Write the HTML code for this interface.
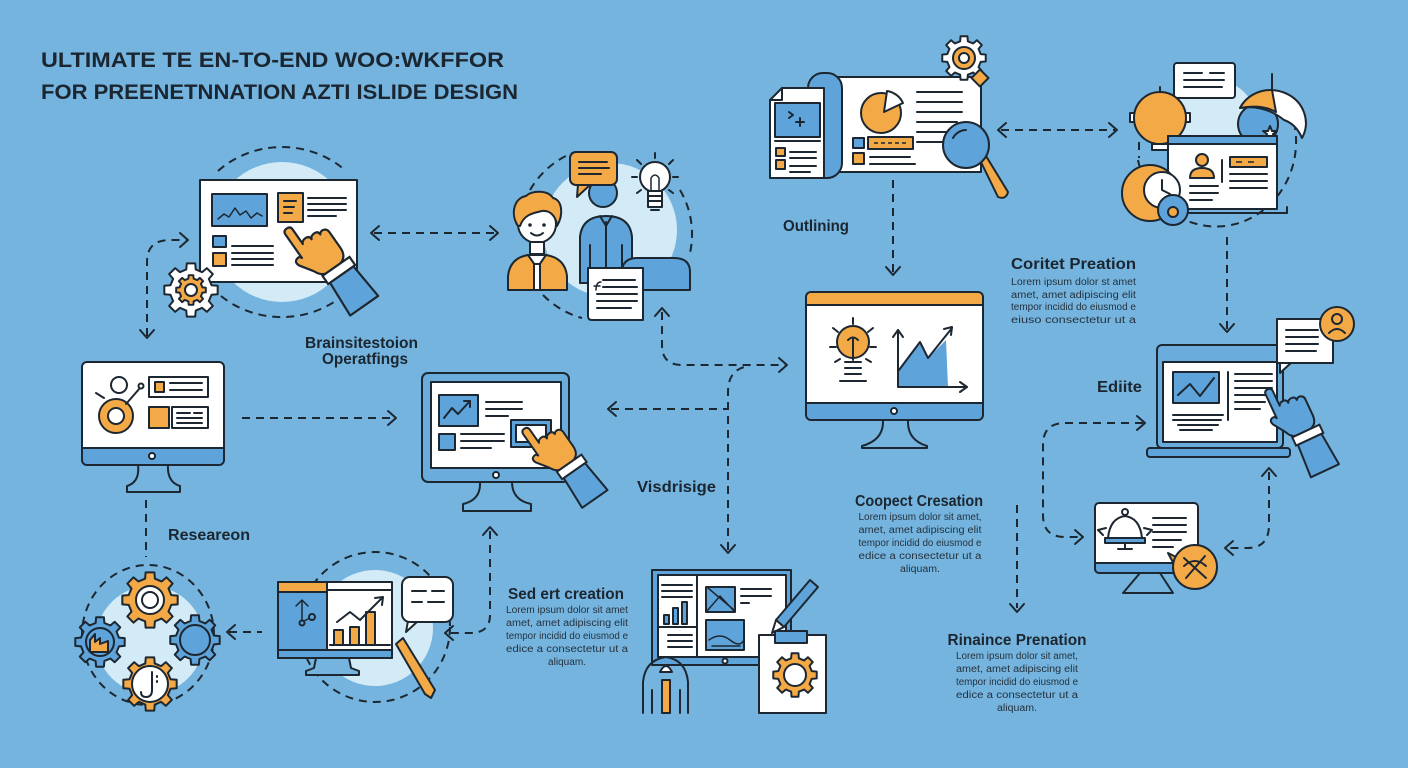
<!DOCTYPE html>
<html><head><meta charset="utf-8">
<style>
html,body{margin:0;padding:0;background:#74b4de;}
svg{display:block}
text{font-family:"Liberation Sans",sans-serif;fill:#1c2630}
.t{font-weight:bold;font-size:16px}
.s{stroke:#1d2731;stroke-width:2;stroke-linejoin:round;stroke-linecap:round}
.l{stroke:#1d2731;stroke-width:2;fill:none;stroke-linecap:round;stroke-linejoin:round}
.th{stroke-width:1.5}
.d{stroke:#1d2731;stroke-width:2;fill:none;stroke-dasharray:8 6}
.w{fill:#fff}
.o{fill:#f4a947}
.b{fill:#5ea3d9}
.bg{fill:#74b4de}
.lc{fill:#d3eaf7}
.lo{font-size:10px;fill:#26323d}
</style></head><body>
<svg width="1408" height="768" viewBox="0 0 1408 768" xmlns="http://www.w3.org/2000/svg">
<defs>
<path id="gear" stroke="#1d2731" stroke-linejoin="round" d="M0.760,-0.1755 L0.988,-0.156 L0.988,0.156 L0.760,0.1755 L0.661,0.413 L0.809,0.588 L0.588,0.809 L0.413,0.661 L0.1755,0.760 L0.156,0.988 L-0.156,0.988 L-0.1755,0.760 L-0.413,0.661 L-0.588,0.809 L-0.809,0.588 L-0.661,0.413 L-0.760,0.1755 L-0.988,0.156 L-0.988,-0.156 L-0.760,-0.1755 L-0.661,-0.413 L-0.809,-0.588 L-0.588,-0.809 L-0.413,-0.661 L-0.1755,-0.760 L-0.156,-0.988 L0.156,-0.988 L0.1755,-0.760 L0.413,-0.661 L0.588,-0.809 L0.809,-0.588 L0.661,-0.413 Z"/>
<g id="hand">
 <path stroke="#1d2731" stroke-width="2" stroke-linejoin="round" d="M0,4 Q0,0 4,0 Q8,0 8,4 L8,20 Q9,17 13,17 Q17,17 17,21 Q18,18 22,18 Q26,18 26,22 Q27,20 30,20 Q34,21 34,25 L34,42 Q34,52 26,54 L10,54 Q5,53 2,46 L-6,34 Q-8,29 -4,28 Q-1,27 0,30 Z"/>
 <path d="M8,63 H34 L37,98 H6 Z" fill="#5ea3d9" stroke="#1d2731" stroke-width="2" stroke-linejoin="round"/>
 <rect x="6" y="54" width="30" height="9" fill="#fff" stroke="#1d2731" stroke-width="2"/>
</g>
</defs>
<rect width="1408" height="768" fill="#74b4de"/>

<!-- TITLE -->
<text x="41" y="67" font-size="21" font-weight="bold" textLength="463" lengthAdjust="spacingAndGlyphs">ULTIMATE TE EN-TO-END WOO:WKFFOR</text>
<text x="41" y="99" font-size="21" font-weight="bold" textLength="477" lengthAdjust="spacingAndGlyphs">FOR PREENETNNATION AZTI ISLIDE DESIGN</text>

<!-- ===== BRAINSTORM SLIDE ===== -->
<circle cx="282" cy="232" r="70" class="lc"/>
<path class="d" d="M218,171 A92,85 0 0 1 346,171"/>
<path class="d" d="M221,296 A92,85 0 0 0 334,302"/>
<rect x="200" y="180" width="157" height="102" class="w s"/>
<rect x="212" y="194" width="55" height="32" class="b s"/>
<polyline class="l th" points="218,219 224,214 229,217 235,208 240,215 246,211 251,218 257,213 262,216"/>
<rect x="278" y="193" width="25" height="29" class="o s"/>
<path class="l" d="M284,201h12M284,207h10M284,213h8"/>
<path class="l" d="M308,198h38M308,204h38M308,210h38M308,216h28"/>
<rect x="213" y="236" width="13" height="11" class="b s"/>
<rect x="213" y="253" width="13" height="13" class="o s"/>
<path class="l" d="M232,246h41M232,253h41M232,259h41M232,265h41"/>
<use href="#hand" fill="#f4a947" transform="translate(283,231) rotate(-35) scale(1.1)"/>
<use href="#gear" fill="#fff" stroke-width="0.074" transform="translate(191,290) scale(27)"/>
<use href="#gear" fill="#f4a947" stroke-width="0.13" transform="translate(191,290) scale(15)"/>
<circle cx="191" cy="290" r="6" class="w s"/>
<path class="d" d="M147,336 L147,262 Q147,240 170,240 L186,240"/>
<polyline class="l" points="180,233 188,240 180,247"/>
<polyline class="l" points="140,330 147,338 154,330"/>
<path class="d" d="M374,233 H496"/>
<polyline class="l" points="379,226 371,233 379,240"/>
<polyline class="l" points="490,226 498,233 490,240"/>
<text x="305" y="348" class="t" textLength="113" lengthAdjust="spacingAndGlyphs">Brainsitestoion</text>
<text x="322" y="364" class="t" textLength="86" lengthAdjust="spacingAndGlyphs">Operatfings</text>

<!-- ===== PEOPLE GROUP ===== -->
<circle cx="610" cy="230" r="67" class="lc"/>
<path class="d" d="M530,190 A87,87 0 0 1 575,152"/>
<path class="d" d="M680,190 A87,87 0 0 1 689,257"/>
<path class="d" d="M543,295 A87,87 0 0 0 582,318"/>
<circle cx="603" cy="193" r="14" class="b s"/>
<path class="b s" d="M580,283 L580,237 Q582,216 606,216 Q630,216 632,237 L632,283 Z"/>
<path class="l" d="M606,222 L606,283 M600,216 L606,226 L612,216 M590,245 V283 M622,245 V283"/>
<path class="o s" d="M578,184 L577,197 L591,184 Z"/>
<rect x="570" y="152" width="47" height="33" rx="6" class="o s"/>
<path class="l" d="M579,162h28M579,168h30M579,174h22"/>
<circle cx="655" cy="177" r="15" class="w s"/>
<rect x="648" y="191" width="14" height="16" class="w s"/>
<path class="l" d="M648,196h14M648,201h14M651,210h8"/>
<path class="l th" d="M651,190 L651,178 Q655,172 659,178 L659,190"/>
<path class="l" d="M655,153v5M637,160l4,4M673,160l-4,4M632,177h5M673,177h5M637,193l4,-3M673,193l-4,-3"/>
<path class="b s" d="M622,290 V272 Q622,258 638,258 H674 Q690,258 690,272 V290 Z"/>
<path class="w s" d="M588,268 H643 V320 H592 Q588,320 588,316 Z"/>
<path class="l" d="M603,280h32M603,287h34M597,294h40M597,301h40M597,308h34"/>
<path class="l th" d="M596,290 q0,-8 5,-8 M594,286h6"/>
<circle cx="537" cy="224" r="19" class="w s"/>
<path class="o s" d="M518,226 C510,214 514,198 526,196 C532,190 548,190 553,198 C562,200 564,214 557,226 C556,216 550,210 542,211 C534,213 524,214 520,226 Z"/>
<circle cx="530" cy="225" r="1.8" fill="#1d2731"/>
<circle cx="544" cy="225" r="1.8" fill="#1d2731"/>
<path class="l" d="M531,233 Q537,238 543,233"/>
<rect x="530" y="242" width="14" height="12" class="w s"/>
<path class="o s" d="M508,290 L508,276 Q510,258 528,255 L546,255 Q565,258 567,276 L567,290 Z"/>
<path class="w s" d="M528,255 L537,268 L546,255 Z"/>
<rect x="534" y="264" width="6" height="26" class="w s"/>
<path class="d" d="M662,312 V345 Q662,365 682,365 H785"/>
<polyline class="l" points="655,316 662,308 669,316"/>
<polyline class="l" points="779,358 787,365 779,372"/>

<!-- ===== OUTLINING ===== -->
<rect x="835" y="77" width="146" height="95" class="w s"/>
<rect x="808" y="73" width="34" height="105" rx="15" class="b s"/>
<path class="w s" d="M782,88 H824 V178 H770 V100 Z"/>
<path class="l" d="M770,100 H782 V88"/>
<rect x="775" y="103" width="45" height="34" class="b s"/>
<path class="l" d="M789,112 l4,3 -4,3 M800,118 v8 M796,122 h8 M775,141 h45"/>
<rect x="776" y="148" width="9" height="8" class="o s"/>
<rect x="776" y="160" width="9" height="9" class="o s"/>
<path class="l" d="M790,152h26M790,158h26M790,166h26M790,172h20"/>
<circle cx="881" cy="113" r="20" class="o s"/>
<path class="w s" d="M884,112 L887,91 A21,21 0 0 1 903,103 Z"/>
<path class="l" d="M917,92h45M917,102h45M917,112h45M917,122h40M917,132h40M917,142h25"/>
<rect x="853" y="138" width="11" height="10" class="b s"/>
<rect x="868" y="137" width="45" height="12" class="o s"/>
<path d="M874,143h32" stroke="#1d2731" stroke-width="1.5" stroke-dasharray="4 3"/>
<rect x="853" y="153" width="11" height="11" class="o s"/>
<path class="l" d="M870,157h40M870,164h45"/>
<path class="o s" d="M980,160 L986,156 L1008,192 Q1006,200 998,197 Z"/>
<circle cx="966" cy="145" r="23" class="b s"/>
<path class="l" stroke="#fff" d="M953,138 A15,15 0 0 1 966,130"/>
<use href="#gear" fill="#fff" stroke-width="0.09" transform="translate(964,58) scale(22)"/>
<circle cx="964" cy="58" r="11" class="o s"/>
<circle cx="964" cy="58" r="5" class="w s"/>
<rect x="974" y="72" width="12" height="12" transform="rotate(45 980 78)" class="o s"/>
<path class="d" d="M1001,130 H1115"/>
<polyline class="l" points="1006,123 998,130 1006,137"/>
<polyline class="l" points="1109,123 1117,130 1109,137"/>
<text x="783" y="231" class="t" textLength="66" lengthAdjust="spacingAndGlyphs">Outlining</text>
<path class="d" d="M893,180 V273"/>
<polyline class="l" points="886,267 893,275 900,267"/>

<!-- ===== RIGHT TOP CLUSTER ===== -->
<circle cx="1212" cy="125" r="46" class="lc"/>
<path class="d" d="M1138,160 A80,85 0 1 0 1290,109"/>
<path class="d" d="M1139,142 V158"/>
<rect x="1174" y="63" width="61" height="35" rx="3" class="w s"/>
<path class="l" d="M1184,73h18M1210,73h14M1184,80h40M1184,87h30M1208,87h14"/>
<circle cx="1258" cy="124" r="20" class="b s"/>
<path class="w s" d="M1240,108 A34,32 0 0 1 1302,138 Q1296,124 1284,120 Q1264,104 1240,108 Z"/>
<path class="o s" d="M1240,108 A34,32 0 0 1 1272,90 L1276,112 Q1262,104 1240,108 Z"/>
<path class="l" d="M1272,90 V74"/>
<polygon class="w s" points="1270,126 1272,131 1277,131 1273,134 1275,139 1270,136 1265,139 1267,134 1263,131 1268,131"/>
<rect x="1130" y="113" width="6" height="9" class="w s"/>
<rect x="1184" y="113" width="6" height="9" class="w s"/>
<circle cx="1160" cy="118" r="26" class="o s"/>
<path class="l" d="M1160,92 v-5"/>
<rect x="1152" y="144" width="16" height="6" class="w s"/>
<rect x="1168" y="136" width="109" height="73" class="w s"/>
<rect x="1168" y="136" width="109" height="8" class="b s"/>
<circle cx="1202" cy="160" r="6" class="o s"/>
<path class="o s" d="M1190,178 Q1190,168 1202,168 Q1214,168 1214,178 Z"/>
<path class="l" d="M1222,160 V182"/>
<rect x="1230" y="157" width="37" height="10" class="o s"/>
<path d="M1236,162h6M1248,162h6" stroke="#1d2731" stroke-width="1.5"/>
<path class="l" d="M1230,174h37M1230,181h37M1230,188h37M1190,186h28M1190,193h28M1190,200h22"/>
<path class="l" d="M1170,213 H1287 V207"/>
<circle cx="1150" cy="193" r="28" class="o s"/>
<circle cx="1162" cy="190" r="18" class="w s"/>
<path class="l" d="M1162,180 V190 L1170,194"/>
<circle cx="1173" cy="210" r="15" class="b s"/>
<circle cx="1173" cy="212" r="5" class="o s"/>
<path class="d" d="M1227,237 V330"/>
<polyline class="l" points="1220,324 1227,332 1234,324"/>
<text x="1011" y="269" class="t" textLength="125" lengthAdjust="spacingAndGlyphs">Coritet Preation</text>
<text x="1011" y="285" class="lo" textLength="125" lengthAdjust="spacingAndGlyphs">Lorem ipsum dolor st amet</text>
<text x="1011" y="298" class="lo" textLength="125" lengthAdjust="spacingAndGlyphs">amet, amet adipiscing elit</text>
<text x="1011" y="310" class="lo" textLength="125" lengthAdjust="spacingAndGlyphs">tempor incidid do eiusmod e</text>
<text x="1011" y="323" class="lo" textLength="125" lengthAdjust="spacingAndGlyphs">eiuso consectetur ut a</text>

<!-- ===== CONCEPT MONITOR ===== -->
<rect x="806" y="292" width="177" height="128" rx="5" class="w"/>
<path class="o" d="M807,305 V297 Q807,293 811,293 H978 Q982,293 982,297 V305 Z"/>
<path class="b" d="M807,403 H982 V415 Q982,419 978,419 H811 Q807,419 807,415 Z"/>
<path class="l" d="M806,305 H983 M806,403 H983"/>
<rect x="806" y="292" width="177" height="128" rx="5" class="l"/>
<circle cx="894" cy="411" r="3" class="w s"/>
<path class="bg s" d="M883,420 Q884,440 862,446 V448 H927 V446 Q907,440 908,420 Z"/>
<circle cx="853" cy="342" r="16" class="o s"/>
<path class="l" d="M848,340 q5,-5 10,0 M853,338 V360 M845,362h16M845,368h16M845,374h16M840,381h26"/>
<path class="l" d="M853,318v6M833,328l5,4M873,328l-5,4M830,347h6M870,347h6M835,362l5,-3M871,362l-5,-3"/>
<polygon class="b" points="899,387 899,370 920,342 928,358 946,340 948,387"/>
<polyline class="l" points="899,370 920,342 928,358 952,328"/>
<polyline class="l" points="944,329 952,327 951,335"/>
<path class="l" d="M898,387 H967 M898,387 V330"/>
<polyline class="l" points="893,337 898,330 903,337"/>
<polyline class="l" points="960,382 967,387 960,392"/>
<path class="d" d="M611,409 H728"/>
<polyline class="l" points="616,402 608,409 616,416"/>
<path class="d" d="M728,550 V392 Q728,368 750,366"/>
<polyline class="l" points="721,545 728,553 735,545"/>
<text x="637" y="492" class="t" textLength="79" lengthAdjust="spacingAndGlyphs">Visdrisige</text>

<!-- ===== RESEARCH MONITOR ===== -->
<rect x="82" y="362" width="142" height="103" rx="5" class="w"/>
<path class="b" d="M83,448 H223 V460 Q223,464 219,464 H87 Q83,464 83,460 Z"/>
<path class="l" d="M82,448 H224"/>
<rect x="82" y="362" width="142" height="103" rx="5" class="l"/>
<circle cx="152" cy="456" r="3" class="w s"/>
<path class="bg s" d="M138,465 Q140,482 127,486 V492 H180 V486 Q167,482 168,465 Z"/>
<circle cx="116" cy="416" r="17" class="o s"/>
<circle cx="116" cy="416" r="8" class="w s"/>
<circle cx="119" cy="385" r="8" class="w s"/>
<path class="l" d="M104,398 L96,393 M126,404 L140,388"/>
<circle cx="141" cy="386" r="2.5" class="w s"/>
<rect x="149" y="377" width="59" height="20" class="w s"/>
<rect x="155" y="382" width="9" height="10" class="o s"/>
<path class="l" d="M170,383h32M170,390h32"/>
<rect x="149" y="407" width="20" height="21" class="o s"/>
<rect x="172" y="407" width="36" height="21" class="w s"/>
<path class="l" d="M177,413h13M194,413h8M177,418h25M177,423h25"/>
<path class="d" d="M242,418 H394"/>
<polyline class="l" points="388,411 396,418 388,425"/>
<path class="d" d="M146,500 V557"/>
<text x="168" y="540" class="t" textLength="82" lengthAdjust="spacingAndGlyphs">Researeon</text>

<!-- ===== VISUAL MONITOR ===== -->
<rect x="422" y="373" width="147" height="109" rx="6" fill="#6aaddc" class="s"/>
<rect x="431" y="382" width="130" height="86" class="w s"/>
<circle cx="496" cy="475" r="3" class="w s"/>
<path class="bg s" d="M480,482 Q481,500 463,504 V511 H531 V504 Q512,500 512,482 Z"/>
<rect x="439" y="395" width="39" height="31" class="b s"/>
<polyline class="l" points="444,418 452,408 458,414 470,401"/>
<polyline class="l" points="464,401 470,401 470,407"/>
<path class="l" d="M486,402h36M486,409h36M486,416h22"/>
<rect x="439" y="434" width="16" height="16" class="b s"/>
<path class="l" d="M461,434h43M461,441h43M461,448h30"/>
<rect x="511" y="420" width="40" height="27" class="b s"/>
<rect x="516" y="425" width="30" height="17" class="w s"/>
<use href="#hand" fill="#f4a947" transform="translate(521,431) rotate(-35)"/>

<!-- ===== GEARS CLUSTER ===== -->
<circle cx="150" cy="640" r="54" class="lc"/>
<ellipse cx="148" cy="635" rx="66" ry="70" class="d"/>
<use href="#gear" fill="#5ea3d9" stroke-width="0.08" transform="translate(100,642) scale(25)"/>
<circle cx="100" cy="642" r="14" class="b s"/>
<path class="o s" d="M90,652 V640 l5,-6 v8 l5,-4 v6 l8,-3 v11 Z"/>
<use href="#gear" fill="#5ea3d9" stroke-width="0.08" transform="translate(195,640) scale(25)"/>
<circle cx="195" cy="640" r="15" class="b s"/>
<use href="#gear" fill="#f4a947" stroke-width="0.072" transform="translate(150,600) scale(28)"/>
<circle cx="150" cy="600" r="14" class="w s"/>
<circle cx="150" cy="600" r="8" class="l"/>
<use href="#gear" fill="#f4a947" stroke-width="0.074" transform="translate(150,684) scale(27)"/>
<circle cx="150" cy="684" r="18" class="w s"/>
<path class="l" d="M152,672 V690 Q152,697 146,697 Q141,697 141,692 M157,676 v1 M157,681 v1"/>
<path class="d" d="M229,632 H262"/>
<polyline class="l" points="235,625 227,632 235,639"/>

<!-- ===== SLIDE CREATION ===== -->
<circle cx="375" cy="628" r="58" class="lc"/>
<circle cx="375" cy="627" r="75" class="d"/>
<rect x="278" y="582" width="114" height="76" class="w s"/>
<rect x="279" y="592" width="48" height="58" class="b"/>
<rect x="278" y="582" width="49" height="10" class="o s"/>
<path class="l" d="M327,582 V650 M327,590 H392"/>
<path class="l th" d="M302,600 V622 M296,606 l6,-6 6,6 M302,622 l8,-4"/>
<circle cx="312" cy="617" r="3" class="b s"/>
<circle cx="302" cy="623" r="2.5" class="b s"/>
<rect x="334" y="630" width="9" height="15" class="o s"/>
<rect x="350" y="627" width="9" height="18" class="o s"/>
<rect x="366" y="612" width="9" height="33" class="o s"/>
<polyline class="l" points="337,622 350,612 360,620 382,598"/>
<polyline class="l" points="375,598 383,597 382,605"/>
<path class="l" d="M330,645 H390"/>
<rect x="278" y="650" width="114" height="8" class="b s"/>
<path class="bg s" d="M316,658 L314,668 L306,671 V675 H359 V671 L351,668 L349,658 Z"/>
<path class="w s" d="M408,621 L406,632 L418,621 Z"/>
<rect x="402" y="577" width="51" height="45" rx="8" class="w s"/>
<path class="l" d="M412,591h14M432,591h12M412,602h10M428,602h16"/>
<path class="o s" d="M396,644 L403,638 L435,690 L431,698 L425,694 Z"/>
<path class="d" d="M490,531 V615 Q490,633 470,633 H448"/>
<polyline class="l" points="483,535 490,527 497,535"/>
<polyline class="l" points="453,626 445,633 453,640"/>
<text x="566" y="599" class="t" text-anchor="middle" textLength="116" lengthAdjust="spacingAndGlyphs">Sed ert creation</text>
<text x="567" y="613" class="lo" text-anchor="middle" textLength="122" lengthAdjust="spacingAndGlyphs">Lorem ipsum dolor sit amet</text>
<text x="567" y="626" class="lo" text-anchor="middle" textLength="122" lengthAdjust="spacingAndGlyphs">amet, amet adipiscing elit</text>
<text x="567" y="639" class="lo" text-anchor="middle" textLength="122" lengthAdjust="spacingAndGlyphs">tempor incidid do eiusmod e</text>
<text x="567" y="652" class="lo" text-anchor="middle" textLength="122" lengthAdjust="spacingAndGlyphs">edice a consectetur ut a</text>
<text x="567" y="665" class="lo" text-anchor="middle" textLength="38" lengthAdjust="spacingAndGlyphs">aliquam.</text>

<!-- ===== VISUAL DESIGN SLIDE (bottom center) ===== -->
<rect x="652" y="570" width="139" height="95" class="b s"/>
<rect x="658" y="575" width="128" height="82" class="w s"/>
<path class="l" d="M697,575 V657 M658,627 H697"/>
<path class="l" d="M662,585h30M662,591h30M662,597h30"/>
<rect x="664" y="615" width="5" height="9" class="b s"/>
<rect x="673" y="608" width="5" height="16" class="b s"/>
<rect x="682" y="602" width="5" height="22" class="b s"/>
<path class="l" d="M668,635h24M668,641h24M668,647h24"/>
<rect x="706" y="587" width="29" height="25" class="b s"/>
<path class="l th" d="M707,611 L720,596 L734,611 M708,588 L734,610"/>
<path class="l" d="M741,589h30M741,596h30M741,603h8"/>
<rect x="706" y="620" width="38" height="30" class="b s"/>
<path class="l th" d="M709,640 Q720,632 730,640 T744,640 M712,646h28"/>
<circle cx="725" cy="661" r="2.5" class="w s"/>
<path class="b s" d="M776,620 L810,580 L818,587 L784,627 Z"/>
<path class="w s" d="M776,620 L784,627 L772,633 Z"/>
<rect x="759" y="635" width="67" height="78" class="w s"/>
<rect x="775" y="631" width="32" height="12" class="b s"/>
<use href="#gear" fill="#f4a947" stroke-width="0.09" transform="translate(795,675) scale(22)"/>
<circle cx="795" cy="675" r="11" class="w s"/>
<path class="l" d="M643,713 V682 Q645,660 666,657 Q686,660 688,682 V713 M652,690 V713 M680,690 V713"/>
<rect x="662" y="680" width="8" height="33" class="o s"/>
<path class="w s" d="M660,672 Q666,660 672,672 Z"/>

<!-- ===== CONCEPT / RINAINCE TEXT ===== -->
<text x="919" y="506" class="t" text-anchor="middle" textLength="128" lengthAdjust="spacingAndGlyphs">Coopect Cresation</text>
<text x="920" y="520" class="lo" text-anchor="middle" textLength="123" lengthAdjust="spacingAndGlyphs">Lorem ipsum dolor sit amet,</text>
<text x="920" y="533" class="lo" text-anchor="middle" textLength="123" lengthAdjust="spacingAndGlyphs">amet, amet adipiscing elit</text>
<text x="920" y="546" class="lo" text-anchor="middle" textLength="123" lengthAdjust="spacingAndGlyphs">tempor incidid do eiusmod e</text>
<text x="920" y="559" class="lo" text-anchor="middle" textLength="123" lengthAdjust="spacingAndGlyphs">edice a consectetur ut a</text>
<text x="920" y="572" class="lo" text-anchor="middle" textLength="40" lengthAdjust="spacingAndGlyphs">aliquam.</text>
<path class="d" d="M1017,505 V608"/>
<polyline class="l" points="1010,604 1017,612 1024,604"/>
<text x="1017" y="645" class="t" text-anchor="middle" textLength="139" lengthAdjust="spacingAndGlyphs">Rinaince Prenation</text>
<text x="1017" y="659" class="lo" text-anchor="middle" textLength="122" lengthAdjust="spacingAndGlyphs">Lorem ipsum dolor sit amet,</text>
<text x="1017" y="672" class="lo" text-anchor="middle" textLength="122" lengthAdjust="spacingAndGlyphs">amet, amet adipiscing elit</text>
<text x="1017" y="685" class="lo" text-anchor="middle" textLength="122" lengthAdjust="spacingAndGlyphs">tempor incidid do eiusmod e</text>
<text x="1017" y="698" class="lo" text-anchor="middle" textLength="122" lengthAdjust="spacingAndGlyphs">edice a consectetur ut a</text>
<text x="1017" y="711" class="lo" text-anchor="middle" textLength="40" lengthAdjust="spacingAndGlyphs">aliquam.</text>

<!-- ===== EDIT LAPTOP ===== -->
<rect x="1157" y="345" width="126" height="103" rx="5" fill="#6aaddc" class="s"/>
<rect x="1163" y="362" width="114" height="80" class="w s"/>
<rect x="1147" y="448" width="143" height="9" rx="3" class="b s"/>
<rect x="1173" y="372" width="46" height="31" class="b s"/>
<polyline class="l" points="1178,395 1190,384 1200,396 1214,378"/>
<path class="l" d="M1173,415h50M1173,420h48M1178,425h40M1180,430h32"/>
<path class="l" d="M1228,372 V420"/>
<path class="l" d="M1235,374h37M1235,381h37M1235,388h37M1235,395h30M1235,402h30M1235,409h25"/>
<path class="w s" d="M1280,362 L1280,373 L1292,362 Z"/>
<rect x="1277" y="319" width="56" height="44" class="w s"/>
<path class="l" d="M1286,330h32M1286,337h32M1286,344h32M1286,351h30"/>
<circle cx="1337" cy="324" r="17" class="o s"/>
<circle cx="1337" cy="319" r="5" class="l"/>
<path class="l" d="M1329,333 Q1337,325 1345,333"/>
<use href="#hand" fill="#5ea3d9" transform="translate(1264,391) rotate(-25)"/>
<text x="1097" y="392" class="t" textLength="45" lengthAdjust="spacingAndGlyphs">Ediite</text>
<path class="d" d="M1143,423 H1065 Q1043,423 1043,445 V515 Q1043,537 1065,537 H1081"/>
<polyline class="l" points="1137,416 1145,423 1137,430"/>
<polyline class="l" points="1075,530 1083,537 1075,544"/>

<!-- small monitor -->
<rect x="1095" y="503" width="103" height="70" rx="4" class="w"/>
<path class="b" d="M1096,563 H1197 V569 Q1197,572 1194,572 H1099 Q1096,572 1096,569 Z"/>
<path class="l" d="M1095,563 H1198"/>
<rect x="1095" y="503" width="103" height="70" rx="4" class="l"/>
<path class="bg s" d="M1140,573 L1123,593 H1173 L1160,573 Z"/>
<path class="w s" d="M1108,538 Q1110,518 1125,516 Q1140,518 1142,538 Z"/>
<rect x="1105" y="538" width="40" height="5" class="b s"/>
<circle cx="1125" cy="512" r="3" class="w s"/>
<path class="l" d="M1125,543 v6 M1118,549 h14 M1106,528 l-8,2 5,5 M1144,528 l8,2 -5,5"/>
<path class="l" d="M1153,518h33M1153,525h33M1153,532h33M1153,540h28M1153,547h20"/>
<path class="o s" d="M1178,558 L1168,553 L1176,568 Z"/>
<circle cx="1195" cy="567" r="22" class="o s"/>
<path class="l" d="M1184,558 L1206,578 M1205,556 L1186,578 M1184,566 Q1195,556 1206,566"/>
<path class="d" d="M1269,472 V525 Q1269,548 1247,548 H1228"/>
<polyline class="l" points="1262,476 1269,468 1276,476"/>
<polyline class="l" points="1233,541 1225,548 1233,555"/>
</svg>
</body></html>
